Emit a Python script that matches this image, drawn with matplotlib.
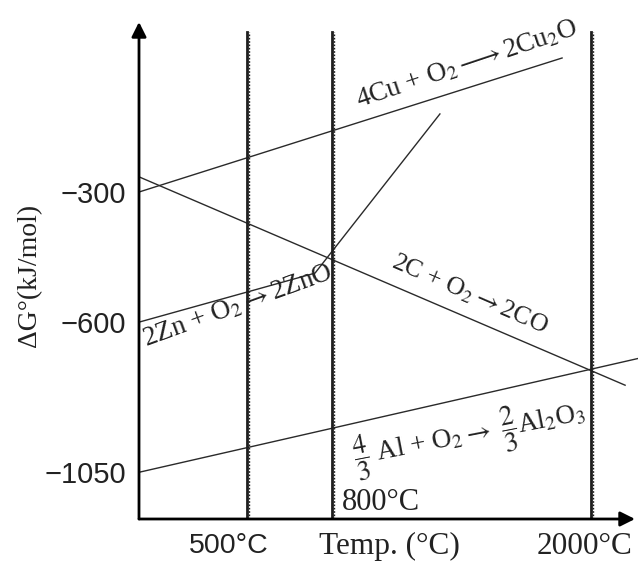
import numpy as np
import matplotlib
matplotlib.use("Agg")
import matplotlib.pyplot as plt
from matplotlib import transforms

# Ellingham diagram: standard free energy of oxide formation vs temperature
cu_T = [0, 1866]
cu_G = [-300, 9]
c_T = [0, 2155]
c_G = [-265, -789]
zn_T = [0, 740, 1300]
zn_G = [-600, -487, -120]
al_T = [0, 2220]
al_G = [-1050, -708]

marker_temps = [500, 800, 2000]
y_ticks = [-300, -600, -1050]
y_tick_labels = ["\u2212300", "\u2212600", "\u22121050"]

# schematic (piecewise-linear) axis spacing
t_knots = [-1000, 0, 500, 800, 2000, 3000]
t_pos = [-216, 0, 108, 193, 452, 672]
g_knots = [-2000, -1050, -600, -300, 1000]
g_pos = [-316.7, 0, 150, 280, 843.3]


def t_fwd(v):
    return np.interp(v, t_knots, t_pos)


def t_inv(p):
    return np.interp(p, t_pos, t_knots)


def g_fwd(v):
    return np.interp(v, g_knots, g_pos)


def g_inv(p):
    return np.interp(p, g_pos, g_knots)


plt.rcParams["mathtext.fontset"] = "stix"
SERIF = ["Liberation Serif", "DejaVu Serif"]
SANS = ["Liberation Sans", "DejaVu Sans"]
INK = "#222222"

fig = plt.figure(figsize=(6.38, 5.66), dpi=100)
ax = fig.add_axes([139 / 638, 47 / 566, 496 / 638, 497 / 566])
ax.set_xscale("function", functions=(t_fwd, t_inv))
ax.set_yscale("function", functions=(g_fwd, g_inv))
ax.set_xlim(0, 2200)
ax.set_ylim(-1190, 92)

for s in ax.spines.values():
    s.set_visible(False)

line_col = "#2a2a2a"
ax.plot(cu_T, cu_G, color=line_col, lw=1.0)
ax.plot(c_T, c_G, color=line_col, lw=1.0)
ax.plot(zn_T, zn_G, color=line_col, lw=1.0)
ax.plot(al_T, al_G, color=line_col, lw=1.0, clip_on=False)

# vertical temperature markers: solid rule with a dotted rule alongside
shift = transforms.ScaledTranslation(1.5 / 100, 0, fig.dpi_scale_trans)
for t in marker_temps:
    ax.plot([t, t], [-1190, 70], color="#1e1e1e", lw=2.0)
    ax.plot([t, t], [-1190, 70], color="#1e1e1e", lw=1.0, ls=(0, (1.2, 1.2)),
            transform=ax.transData + shift)

# axes with arrow heads
ax.annotate("", xy=(0, 1), xytext=(0, 0), xycoords="axes fraction",
            arrowprops=dict(arrowstyle="-|>", lw=2.0, color="k",
                            mutation_scale=22, shrinkA=0, shrinkB=0))
ax.annotate("", xy=(1, 0), xytext=(0, 0), xycoords="axes fraction",
            arrowprops=dict(arrowstyle="-|>", lw=2.0, color="k",
                            mutation_scale=22, shrinkA=0, shrinkB=0))

ax.set_yticks(y_ticks)
ax.set_yticklabels(y_tick_labels, fontfamily=SANS, fontsize=21, color=INK)
ax.set_xticks([])
ax.tick_params(axis="y", length=0, pad=9)

ax.set_ylabel("\u0394G\u00b0(kJ/mol)", fontfamily=SERIF, fontsize=20, color=INK)
ax.yaxis.set_label_coords(-0.196, 0.49)

lab_y = -0.055
xt = ax.get_xaxis_transform()
ax.text(415, lab_y, "500\u00b0C", transform=xt, ha="center", va="center",
        fontfamily=SANS, fontsize=20.5, color=INK)
ax.text(1065, lab_y, "Temp. (\u00b0C)", transform=xt, ha="center", va="center",
        fontfamily=SERIF, fontsize=22.5, color=INK)
ax.text(1970, lab_y, "2000\u00b0C", transform=xt, ha="center", va="center",
        fontfamily=SERIF, fontsize=22.5, color=INK)
ax.text(845, -1140, "800\u00b0C", ha="left", va="center",
        fontfamily=SERIF, fontsize=22, color=INK)

lab_kw = dict(ha="center", va="center", fontfamily=SERIF,
              color=INK, rotation_mode="anchor")
ax.text(1425, -5, r"4Cu + O$_2$$\longrightarrow$2Cu$_2$O", rotation=18.5,
        fontsize=19.5, **lab_kw)
ax.text(1439, -535, r"2C + O$_2$$\rightarrow$2CO", rotation=-23.5,
        fontsize=18.5, **lab_kw)
ax.text(458, -562, r"2Zn + O$_2$$\rightarrow$2ZnO", rotation=20,
        fontsize=19.5, **lab_kw)
ax.text(1440, -945, r"$\dfrac{4}{3}$ Al + O$_2$$\rightarrow$ $\dfrac{2}{3}$Al$_2$O$_3$",
        rotation=11, fontsize=19.5, **lab_kw)

fig.savefig("out.png", dpi=100)
